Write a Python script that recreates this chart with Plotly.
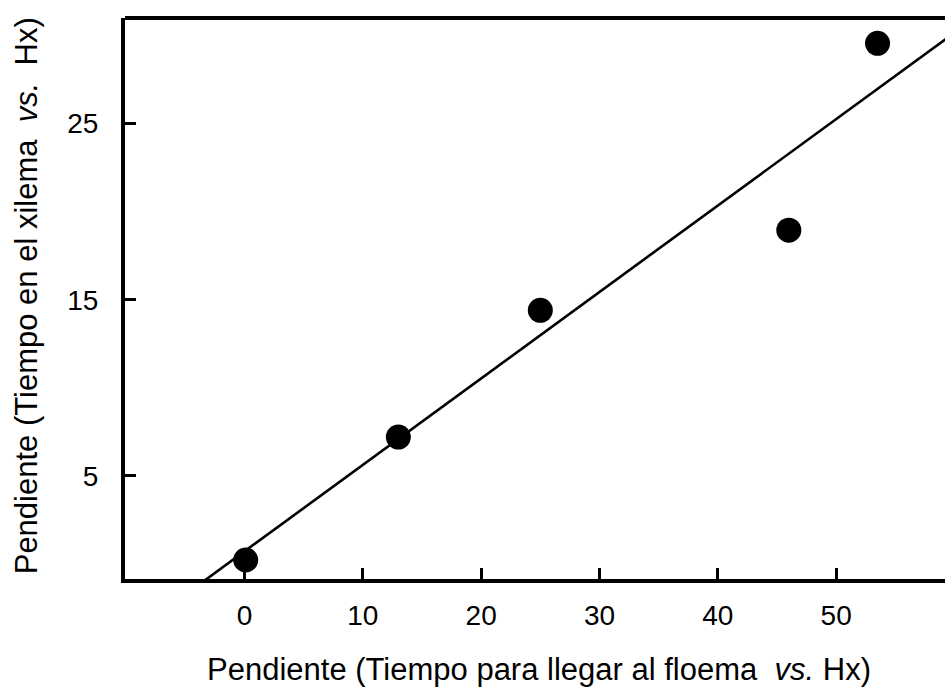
import plotly.graph_objects as go

# Data
x_phloem = [0.1, 13.0, 25.0, 46.0, 53.5]
y_xylem = [0.22, 7.2, 14.4, 18.95, 29.56]

fit_slope = 0.491
fit_intercept = 0.71
fit_x = [-5, 62]
fit_y = [fit_intercept + fit_slope * v for v in fit_x]

x_ticks = [0, 10, 20, 30, 40, 50]
y_ticks = [5, 15, 25]

x_title = "Pendiente (Tiempo para llegar al floema  <i>vs.</i> Hx)"
y_title = "Pendiente (Tiempo en el xilema  <i>vs.</i>  Hx)"

FONT = "Liberation Sans, Arial, Helvetica, sans-serif"

fig = go.Figure()
fig.add_trace(go.Scatter(x=fit_x, y=fit_y, mode="lines",
                         line=dict(color="black", width=2.6),
                         showlegend=False, hoverinfo="skip"))
fig.add_trace(go.Scatter(x=x_phloem, y=y_xylem, mode="markers",
                         marker=dict(color="black", size=25),
                         showlegend=False))

axis_common = dict(showgrid=False, zeroline=False, showline=True,
                   linecolor="black", linewidth=4, ticks="inside",
                   ticklen=11, tickwidth=3, tickcolor="black",
                   tickfont=dict(family=FONT, size=28, color="black"))

fig.update_xaxes(range=[-10.1, 59.2], tickvals=x_ticks,
                 ticktext=[str(v) for v in x_ticks],
                 ticklabelstandoff=8, **axis_common)
fig.update_yaxes(range=[-0.86, 31.0], tickvals=y_ticks,
                 ticktext=[str(v) for v in y_ticks],
                 ticklabelstandoff=17, **axis_common)

# top frame line
fig.add_shape(type="line", xref="paper", yref="paper", x0=0, x1=1, y0=1, y1=1,
              line=dict(color="black", width=4))

fig.add_annotation(text=x_title, xref="paper", yref="paper", x=0.505, y=-0.162,
                   xanchor="center", yanchor="middle", showarrow=False,
                   font=dict(family=FONT, size=31, color="black"))
fig.add_annotation(text=y_title, xref="paper", yref="paper", x=-0.12, y=0.505,
                   xanchor="center", yanchor="middle", showarrow=False, textangle=-90,
                   font=dict(family=FONT, size=31, color="black"))

fig.update_layout(width=945, height=688,
                  margin=dict(l=125, r=0, t=18, b=109),
                  plot_bgcolor="white", paper_bgcolor="white")

fig.write_html("out.html")
